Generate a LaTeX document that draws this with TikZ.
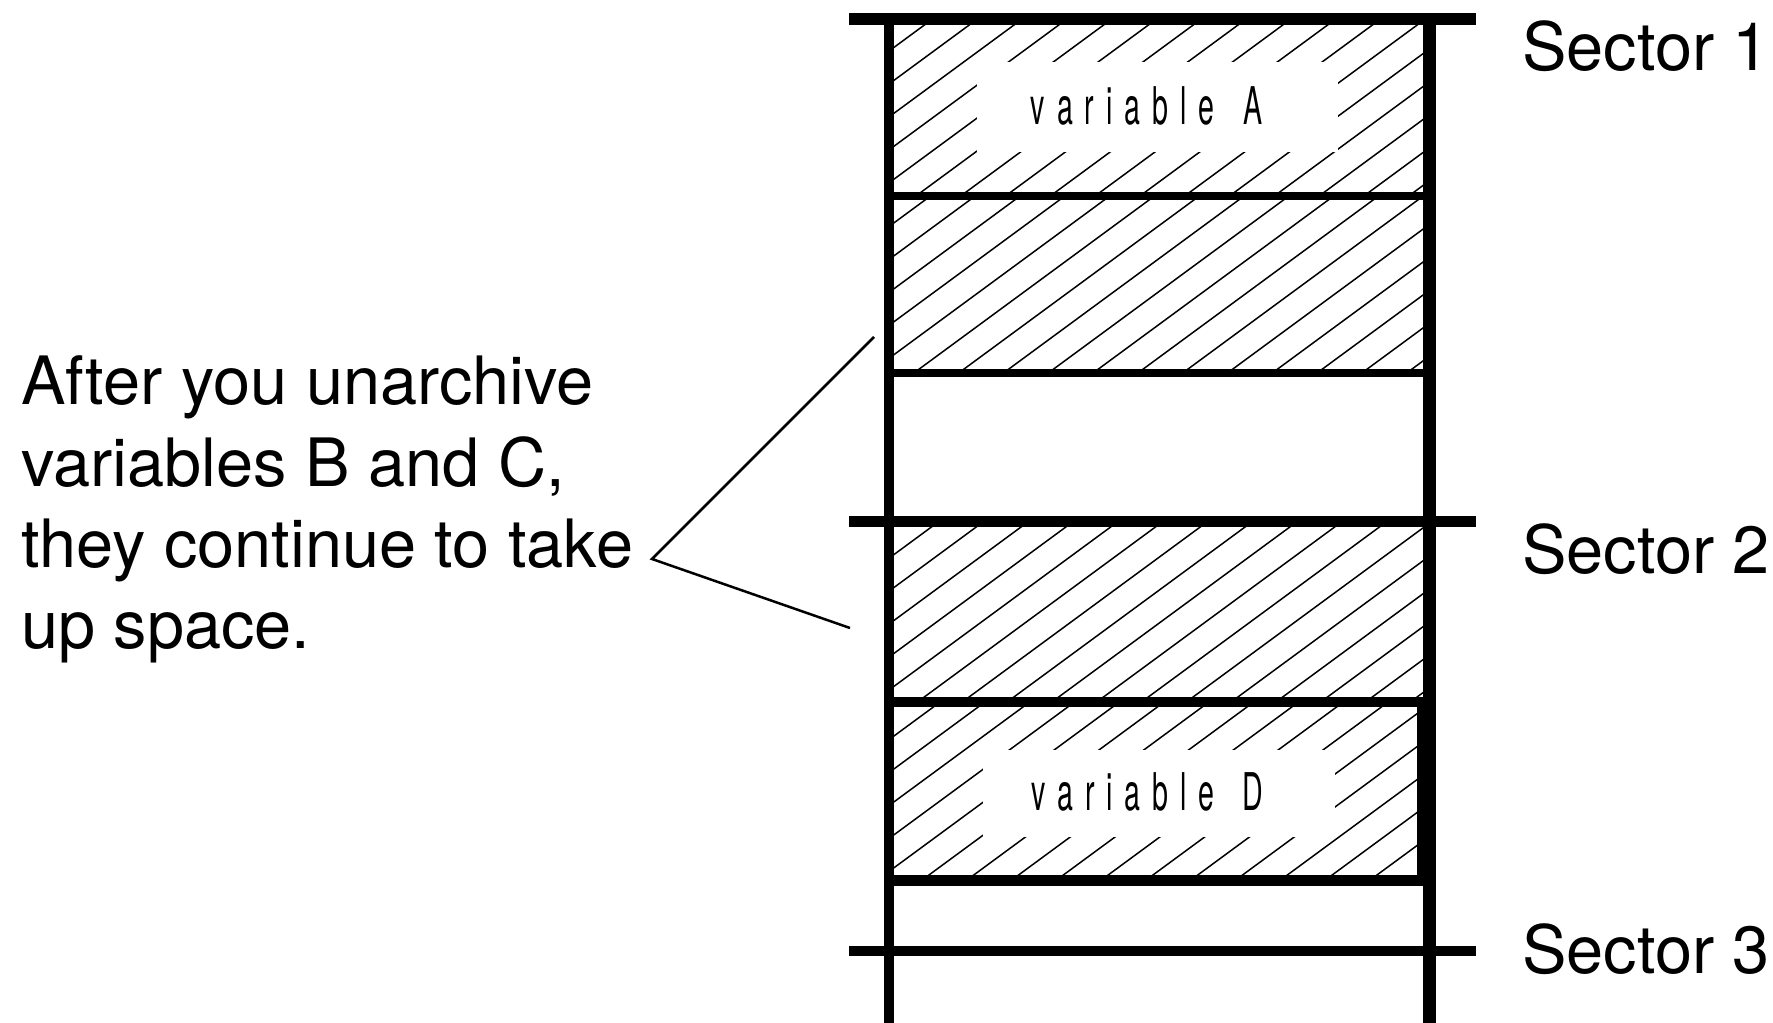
\documentclass[tikz,border=0pt]{standalone}
\usepackage{fontspec}
\usepackage{graphicx}
\setmainfont{TeX Gyre Heros}
\newcommand\lbl[1]{\scalebox{0.55}[1]{\fontsize{52pt}{52pt}\selectfont #1}}
\newcommand\ks{\kern21.6pt }
\newcommand\hatchregion[5]{%
  \begin{scope}
    \clip (#1,#2) rectangle (#3,#4);
    \foreach \n in {18,...,65}{\draw[hatchline] ({#5+\n*44.8},0) -- ++(-1391,1023);}
  \end{scope}}
\begin{document}
\begin{tikzpicture}[x=1pt,y=-1pt,
  hatchline/.style={line width=1.5pt},
  calloutline/.style={line width=2.5pt, line join=miter},
  maintext/.style={font=\fontsize{66.7pt}{81pt}\selectfont, inner sep=0pt, anchor=base west},
  varlabel/.style={inner sep=0pt, anchor=base}]
\useasboundingbox (0,0) rectangle (1773,1023);

% hatching of the four occupied blocks
\hatchregion{894}{25}{1423}{192}{17.6}
\hatchregion{894}{200}{1423}{369}{32.2}
\hatchregion{894}{527}{1423}{697}{35.2}
\hatchregion{894}{707}{1418}{875}{13.1}

% white cut-outs behind the labels
\fill[white] (977,62) rectangle (1338,152);
\fill[white] (983,750) rectangle (1335,837);

\node[varlabel] (varA) at (1147,124) {\lbl{v\ks a\ks r\ks i\ks a\ks b\ks l\ks e\kern54pt A}};
\node[varlabel] (varD) at (1147,810) {\lbl{v\ks a\ks r\ks i\ks a\ks b\ks l\ks e\kern50pt D}};

% sector lines
\draw[line width=12pt] (849,19) -- (1476,19);
\draw[line width=10.5pt] (849,521.5) -- (1476,521.5);
\draw[line width=10.5pt] (849,951) -- (1476,951);

% vertical walls
\draw[line width=10pt] (889,19) -- (889,1023);
\draw[line width=13pt] (1429.5,19) -- (1429.5,1023);

% block separators
\draw[line width=8pt] (889,196) -- (1429.5,196);
\draw[line width=8pt] (889,373) -- (1429.5,373);
\draw[line width=10pt] (889,701.7) -- (1429.5,701.7);
\draw[line width=11pt] (889,880.5) -- (1429.5,880.5);
\draw[line width=6pt] (1420,701.7) -- (1420,880.5);

% sector labels
\node[maintext] (s1) at (1522,70) {Sector 1};
\node[maintext] (s2) at (1522,573) {Sector 2};
\node[maintext] (s3) at (1522,973) {Sector 3};

% explanatory text
\node[maintext] (t1) at (21,404) {After you unarchive};
\node[maintext] (t2) at (21,486) {variables B and C,};
\node[maintext] (t3) at (21,567) {they continue to take};
\node[maintext] (t4) at (21,648) {up space.};

% callout
\coordinate (ctop) at (874,337);
\coordinate (ctip) at (652,559);
\coordinate (cbot) at (850,628);
\draw[calloutline] (ctop) -- (ctip) -- (cbot);
\end{tikzpicture}
\end{document}
